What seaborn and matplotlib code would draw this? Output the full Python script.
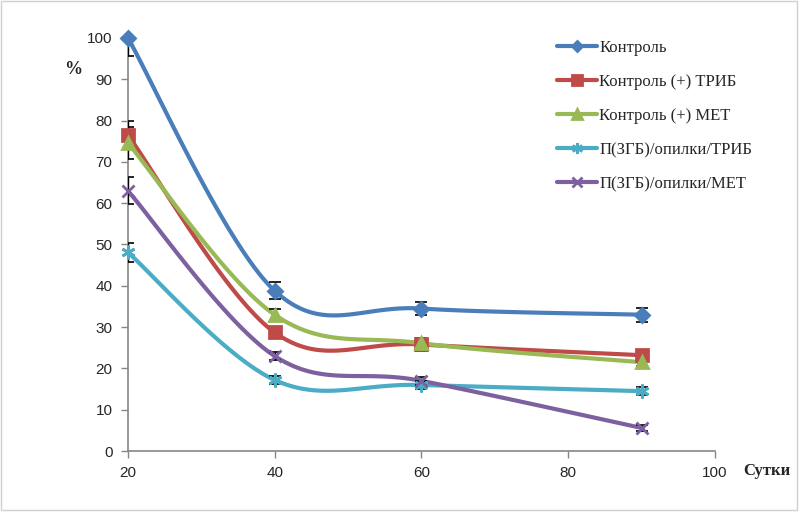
"""
Динамика показателя (%) по суткам для контроля и вариантов с П(ЗГБ)/опилки.
"""
import numpy as np
import pandas as pd
import matplotlib
matplotlib.use("Agg")
import matplotlib.pyplot as plt
import seaborn as sns
from matplotlib.lines import Line2D
from matplotlib.patches import Rectangle

# --- данные ---
sutki = [20, 40, 60, 90]
kontrol = [100, 38.8, 34.5, 33.0]
kontrol_trib = [76.5, 28.7, 25.8, 23.2]
kontrol_met = [74.6, 33.0, 26.1, 21.5]
pzgb_trib = [48.1, 17.2, 16.0, 14.5]
pzgb_met = [63.0, 23.0, 17.0, 5.6]

err_kontrol = [4.5, 2.0, 1.5, 1.7]
err_kontrol_trib = [3.4, 1.2, 1.5, 1.0]
err_kontrol_met = [3.8, 1.5, 1.0, 0.8]
err_pzgb_trib = [2.3, 1.0, 1.0, 1.0]
err_pzgb_met = [3.3, 1.0, 1.0, 0.8]

nazvaniya = ["Контроль", "Контроль (+) ТРИБ", "Контроль (+) МЕТ",
             "П(ЗГБ)/опилки/ТРИБ", "П(ЗГБ)/опилки/МЕТ"]
serii = [kontrol, kontrol_trib, kontrol_met, pzgb_trib, pzgb_met]
oshibki = [err_kontrol, err_kontrol_trib, err_kontrol_met, err_pzgb_trib, err_pzgb_met]
cveta = ["#4A7EBB", "#BE4B48", "#98B954", "#4BACC6", "#7D60A0"]
markery = ["D", "s", "^", (6, 2, 0), "x"]
razmery = [7, 9, 9, 10, 9]


def sglazhivanie(x, y, n=40):
    """Сглаженная линия как в Excel (Безье по соседним точкам)."""
    x = np.asarray(x, float)
    y = np.asarray(y, float)
    p = np.column_stack([x, y])
    ext = np.vstack([p[0], p, p[-1]])
    xs, ys = [], []
    t = np.linspace(0, 1, n)[:, None]
    for i in range(len(p) - 1):
        p0, p1 = ext[i + 1], ext[i + 2]
        c1 = p0 + (ext[i + 2] - ext[i]) / 6
        c2 = p1 - (ext[i + 3] - ext[i + 1]) / 6
        b = ((1 - t) ** 3) * p0 + 3 * ((1 - t) ** 2) * t * c1 + 3 * (1 - t) * t ** 2 * c2 + t ** 3 * p1
        xs.extend(b[:, 0])
        ys.extend(b[:, 1])
    return np.array(xs), np.array(ys)


sns.set_style("white")
plt.rcParams["font.family"] = ["Liberation Sans", "DejaVu Sans"]

fig = plt.figure(figsize=(7.99, 5.12), dpi=100)
ax = fig.add_axes([0.160, 0.119, 0.735, 0.807])

for name, ys, err, c, m, ms in zip(nazvaniya, serii, oshibki, cveta, markery, razmery):
    sx, sy = sglazhivanie(sutki, ys)
    df = pd.DataFrame({"x": sx, "y": sy})
    sns.lineplot(data=df, x="x", y="y", color=c, lw=3, ax=ax, sort=False, zorder=2)
    ax.errorbar(sutki, ys, yerr=err, fmt="none", ecolor="black", elinewidth=1,
                capsize=4, capthick=1.2, zorder=3)
    ax.plot(sutki, ys, ls="none", marker=m, ms=ms, color=c, mec=c, mew=2, zorder=4,
            clip_on=False)

ax.set_xlim(20, 100)
ax.set_ylim(0, 100)
ax.set_xticks(range(20, 101, 20))
ax.set_yticks(range(0, 101, 10))
ax.set_xlabel("")
ax.set_ylabel("")
ax.tick_params(axis="both", labelsize=11, length=5, width=1, color="#868686",
               direction="out", left=True, bottom=True, pad=6)
for s in ["top", "right"]:
    ax.spines[s].set_visible(False)
for s in ["left", "bottom"]:
    ax.spines[s].set_color("#868686")
    ax.spines[s].set_linewidth(1.2)

fig.text(0.080, 0.855, "%", fontsize=13, fontweight="bold", family="Liberation Serif")
fig.text(0.930, 0.072, "Сутки", fontsize=12, fontweight="bold", family="Liberation Serif")

handles = [Line2D([0], [0], color=c, lw=3, marker=m, ms=ms * 0.8, mec=c, mew=2)
           for c, m, ms in zip(cveta, markery, razmery)]
fig.legend(handles, nazvaniya, loc="upper left", bbox_to_anchor=(0.697, 0.922),
           frameon=False, borderpad=0, borderaxespad=0, handlelength=2.4,
           handletextpad=0.15, labelspacing=1.08,
           prop={"family": "Liberation Serif", "size": 12})

fig.patches.append(Rectangle((0.001, 0.003), 0.997, 0.995, transform=fig.transFigure,
                             fill=False, edgecolor="#D0D0D0", lw=1))

fig.savefig("out.png", dpi=100)
plt.close(fig)
